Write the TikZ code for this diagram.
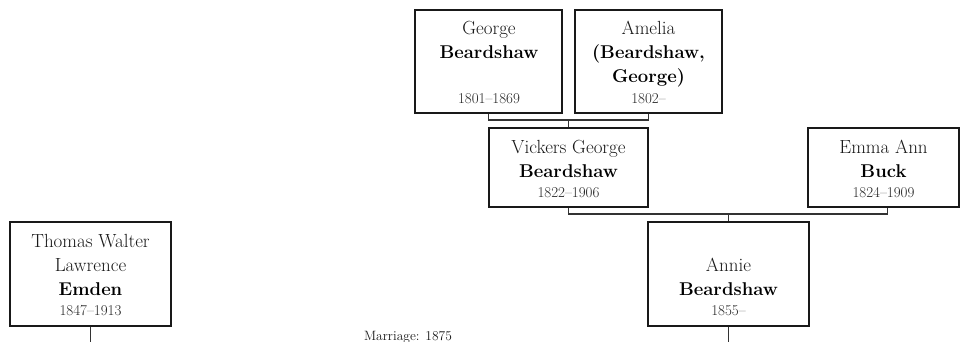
\documentclass[tikz,border=0pt]{standalone}
\usetikzlibrary{calc}
\begin{document}
\begin{tikzpicture}[x=1pt,y=-1pt,
  box/.style={draw=black!90,line width=1.3pt,inner sep=0pt,fill=white},
  link/.style={draw=black!80,line width=1.2pt},
  nm/.style={anchor=base,inner sep=0pt,font=\fontsize{19}{22}\selectfont,text=black!90},
  sur/.style={anchor=base,inner sep=0pt,font=\fontsize{18.5}{22}\selectfont\bfseries,text=black},
  dt/.style={anchor=base,inner sep=0pt,font=\fontsize{15}{17}\selectfont,text=black!85},
  lbl/.style={anchor=base,inner sep=0pt,font=\fontsize{13.5}{15}\selectfont,text=black!90}]
\useasboundingbox (0,0) rectangle (960,342);
\coordinate (gbus) at (0,120);
\coordinate (vbus) at (0,214);
\coordinate (thomasEnd) at (90.5,342);
\coordinate (annieEnd) at (728.5,342);
% boxes
\node[box,minimum width=147pt,minimum height=103pt] (george) at (488.5,61.5) {};
\node[box,minimum width=147pt,minimum height=103pt] (amelia) at (648.5,61.5) {};
\node[box,minimum width=159pt,minimum height=79pt] (vickers) at (568.5,167.5) {};
\node[box,minimum width=151pt,minimum height=79pt] (emma) at (883.5,167.5) {};
\node[box,minimum width=161pt,minimum height=104pt] (annie) at (728.5,274) {};
\node[box,minimum width=161pt,minimum height=104pt] (thomas) at (90.5,274) {};
% lines
\draw[link] (george.south) |- (gbus -| amelia.south) -- (amelia.south);
\draw[link] (gbus -| vickers.north) -- (vickers.north);
\coordinate (emmaLink) at ($(emma.south)+(4,0)$);
\draw[link] (vickers.south) |- (vbus -| emmaLink) -- (emmaLink);
\draw[link] (vbus -| annie.north) -- (annie.north);
\draw[link] (annie.south) -- (annieEnd);
\draw[link] (thomas.south) -- (thomasEnd);
% texts
\node[nm]  (georgeA) at (489,35) {George};
\node[sur] (georgeB) at (489,59) {Beardshaw};
\node[dt]  (georgeC) at (489,104) {1801--1869};
\node[nm]  (ameliaA) at (648.5,35) {Amelia};
\node[sur] (ameliaB) at (648.5,59) {(Beardshaw,};
\node[sur] (ameliaC) at (648.5,83) {George)};
\node[dt]  (ameliaD) at (648.5,104) {1802--};
\node[nm]  (vickersA) at (568.5,153) {Vickers George};
\node[sur] (vickersB) at (568.5,177) {Beardshaw};
\node[dt]  (vickersC) at (568.5,197) {1822--1906};
\node[nm]  (emmaA) at (883.5,153) {Emma Ann};
\node[sur] (emmaB) at (883.5,177) {Buck};
\node[dt]  (emmaC) at (883.5,197) {1824--1909};
\node[nm]  (annieA) at (728.5,271) {Annie};
\node[sur] (annieB) at (728.5,295) {Beardshaw};
\node[dt]  (annieC) at (728.5,315) {1855--};
\node[nm]  (thomasA) at (90.5,247) {Thomas Walter};
\node[nm]  (thomasB) at (90.5,271) {Lawrence};
\node[sur] (thomasC) at (90.5,295) {Emden};
\node[dt]  (thomasD) at (90.5,315) {1847--1913};
\node[lbl] (marriage) at (408,340) {Marriage: 1875};
\end{tikzpicture}
\end{document}
